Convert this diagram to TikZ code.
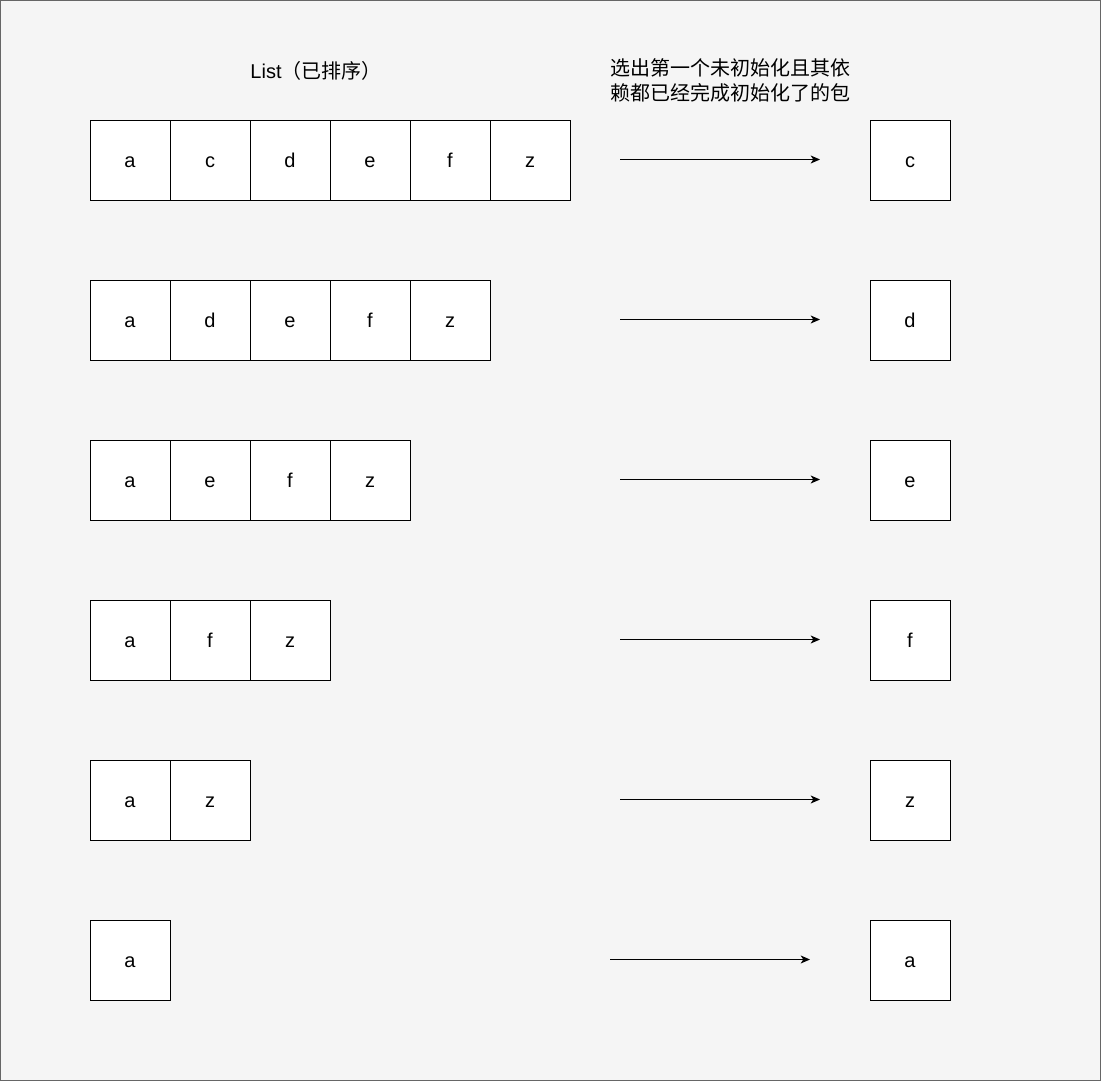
\documentclass[tikz,border=0pt]{standalone}
\usepackage{fontspec}
\setmainfont{Liberation Sans}
\newfontfamily\cjk{Noto Sans CJK SC}
\usepackage{tikz}
\usetikzlibrary{arrows.meta}

\tikzset{
  cell/.style={draw={rgb,255:red,0;green,0;blue,0}, fill=white, line width=0.75pt,
    minimum size=60pt, inner sep=0pt, text height=11pt, text depth=0pt,
    font=\fontsize{15}{18}\selectfont},
  pick/.style={draw, line width=0.75pt, -{Stealth[length=7pt,width=6pt,inset=2pt]}},
  label/.style={inner sep=0.75pt, font=\fontsize{15}{18.75}\selectfont, align=center}
}

\begin{document}
\begin{tikzpicture}[x=0.75pt,y=0.75pt,yscale=-1,xscale=1]
\useasboundingbox (0,0) rectangle (1101,1081);

%Shape: Rectangle [background]
\draw [draw={rgb, 255:red, 102; green, 102; blue, 102 }, fill={rgb, 255:red, 245; green, 245; blue, 245 }, line width=0.75pt] (0.5,0.5) rectangle (1100.5,1080.5);

% Text Node
\node [label] (title) at (316,71) {List{\cjk（已排序）}};
% Text Node
\node [label] (rule) at (730,80) {\cjk 选出第一个未初始化且其依\\\cjk 赖都已经完成初始化了的包};

%Row 1
\node [cell] (l1a) at (130,160.5) {a};
\node [cell] (l1c) at (210,160.5) {c};
\node [cell] (l1d) at (290,160.5) {d};
\node [cell] (l1e) at (370,160.5) {e};
\node [cell] (l1f) at (450,160.5) {f};
\node [cell] (l1z) at (530,160.5) {z};
\node [cell] (out1) at (910,160.5) {c};
\coordinate (s1) at (620,159.5);
\coordinate (t1) at (820,159.5);
\draw [pick] (s1) -- (t1);

%Row 2
\node [cell] (l2a) at (130,320.5) {a};
\node [cell] (l2d) at (210,320.5) {d};
\node [cell] (l2e) at (290,320.5) {e};
\node [cell] (l2f) at (370,320.5) {f};
\node [cell] (l2z) at (450,320.5) {z};
\node [cell] (out2) at (910,320.5) {d};
\coordinate (s2) at (620,319.5);
\coordinate (t2) at (820,319.5);
\draw [pick] (s2) -- (t2);

%Row 3
\node [cell] (l3a) at (130,480.5) {a};
\node [cell] (l3e) at (210,480.5) {e};
\node [cell] (l3f) at (290,480.5) {f};
\node [cell] (l3z) at (370,480.5) {z};
\node [cell] (out3) at (910,480.5) {e};
\coordinate (s3) at (620,479.5);
\coordinate (t3) at (820,479.5);
\draw [pick] (s3) -- (t3);

%Row 4
\node [cell] (l4a) at (130,640.5) {a};
\node [cell] (l4f) at (210,640.5) {f};
\node [cell] (l4z) at (290,640.5) {z};
\node [cell] (out4) at (910,640.5) {f};
\coordinate (s4) at (620,639.5);
\coordinate (t4) at (820,639.5);
\draw [pick] (s4) -- (t4);

%Row 5
\node [cell] (l5a) at (130,800.5) {a};
\node [cell] (l5z) at (210,800.5) {z};
\node [cell] (out5) at (910,800.5) {z};
\coordinate (s5) at (620,799.5);
\coordinate (t5) at (820,799.5);
\draw [pick] (s5) -- (t5);

%Row 6
\node [cell] (l6a) at (130,960.5) {a};
\node [cell] (out6) at (910,960.5) {a};
\coordinate (s6) at (610,959.5);
\coordinate (t6) at (810,959.5);
\draw [pick] (s6) -- (t6);

\end{tikzpicture}
\end{document}
